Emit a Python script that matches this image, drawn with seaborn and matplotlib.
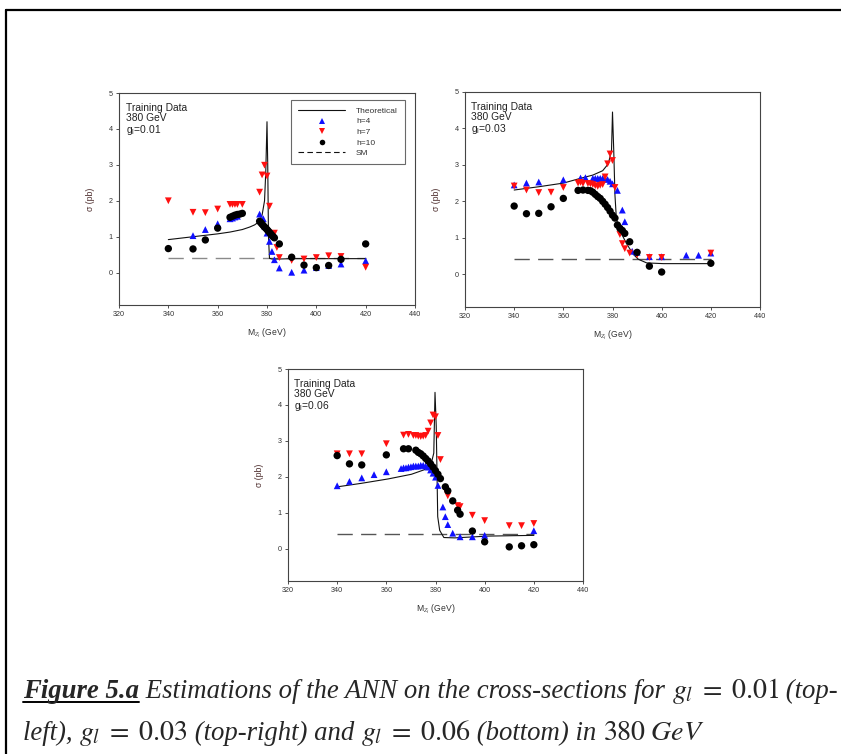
import numpy as np
import pandas as pd
import matplotlib
matplotlib.use("Agg")
import matplotlib.pyplot as plt
import seaborn as sns
from matplotlib.lines import Line2D

# ---------------- data ----------------
# g_l = 0.01
theo_x_01 = [340, 345, 350, 355, 360, 365, 370, 373, 375, 376, 377, 378, 379, 379.5, 380, 380.3, 380.6, 381, 382, 385, 390, 400, 410, 420]
theo_y_01 = [0.92, 0.96, 1.0, 1.04, 1.08, 1.13, 1.2, 1.27, 1.33, 1.38, 1.45, 1.6, 2.0, 2.8, 4.2, 3.0, 1.0, 0.4, 0.38, 0.38, 0.39, 0.39, 0.39, 0.39]
h4_x_01 = [350, 355, 360, 365, 366, 367, 368, 377, 378.5, 379, 380, 381, 382, 383, 385, 390, 395, 400, 405, 410, 420]
h4_y_01 = [1.03, 1.2, 1.36, 1.5, 1.52, 1.55, 1.57, 1.63, 1.5, 1.3, 1.1, 0.87, 0.59, 0.36, 0.13, 0.01, 0.07, 0.14, 0.2, 0.24, 0.33]
h7_x_01 = [340, 350, 355, 360, 365, 366, 367, 368, 370, 377, 378, 379, 380, 381, 383, 384, 385, 390, 395, 400, 405, 410, 420]
h7_y_01 = [2.0, 1.68, 1.67, 1.77, 1.9, 1.9, 1.9, 1.9, 1.9, 2.24, 2.72, 2.99, 2.69, 1.85, 1.1, 0.7, 0.42, 0.34, 0.38, 0.42, 0.47, 0.45, 0.15]
h10_x_01 = [340, 350, 355, 360, 365, 366, 367, 368, 369, 370, 377, 377.5, 378, 378.5, 379, 379.5, 380, 380.5, 381, 381.5, 382, 382.5, 383, 385, 390, 395, 400, 405, 410, 420]
h10_y_01 = [0.67, 0.66, 0.91, 1.24, 1.54, 1.57, 1.6, 1.62, 1.63, 1.65, 1.43, 1.39, 1.35, 1.31, 1.27, 1.24, 1.2, 1.16, 1.12, 1.08, 1.04, 1.0, 0.97, 0.8, 0.43, 0.21, 0.14, 0.2, 0.37, 0.8]
sm_x_01 = [340, 420]
sm_y_01 = [0.4, 0.4]

# g_l = 0.03
theo_x_03 = [340, 350, 360, 368, 372, 376, 378.3, 379.6, 380, 380.5, 381, 381.6, 383.6, 385.7, 388.4, 390.5, 393.9, 400.7, 410, 420]
theo_y_03 = [2.31, 2.4, 2.5, 2.65, 2.72, 2.84, 3.03, 3.4, 4.45, 3.4, 2.17, 1.5, 1.12, 0.84, 0.55, 0.41, 0.31, 0.29, 0.29, 0.29]
h4_x_03 = [340, 345, 350, 360, 367, 369, 372, 373, 374, 375, 376, 377, 378, 379, 380, 382, 384, 385, 388, 390, 395, 400, 410, 415, 420]
h4_y_03 = [2.45, 2.5, 2.53, 2.59, 2.64, 2.65, 2.63, 2.63, 2.63, 2.63, 2.63, 2.62, 2.6, 2.55, 2.48, 2.3, 1.76, 1.44, 0.63, 0.6, 0.48, 0.48, 0.52, 0.52, 0.58]
h7_x_03 = [340, 345, 350, 355, 360, 366, 367, 368, 370, 371, 372, 373, 374, 375, 376, 377, 378, 379, 380, 381, 383, 384, 385, 387, 390, 395, 400, 420]
h7_y_03 = [2.42, 2.31, 2.24, 2.25, 2.38, 2.5, 2.52, 2.49, 2.49, 2.48, 2.46, 2.43, 2.41, 2.44, 2.46, 2.67, 3.03, 3.3, 3.12, 2.38, 1.09, 0.84, 0.7, 0.58, 0.53, 0.46, 0.46, 0.58]
h10_x_03 = [340, 345, 350, 355, 360, 366, 368, 370, 371, 372, 373, 374, 375, 376, 377, 378, 379, 380, 381, 382, 383, 384, 385, 387, 390, 395, 400, 420]
h10_y_03 = [1.87, 1.66, 1.67, 1.85, 2.08, 2.3, 2.31, 2.3, 2.29, 2.25, 2.19, 2.13, 2.08, 2.0, 1.92, 1.83, 1.73, 1.62, 1.54, 1.35, 1.26, 1.2, 1.12, 0.89, 0.6, 0.22, 0.06, 0.3]
sm_x_03 = [340, 420]
sm_y_03 = [0.41, 0.41]

# g_l = 0.06
theo_x_06 = [340, 350, 360.7, 370.2, 375.6, 378.3, 379.3, 379.8, 380.3, 380.9, 381.7, 383.4, 387.8, 401.4, 420]
theo_y_06 = [1.72, 1.82, 1.94, 2.07, 2.2, 2.38, 2.66, 4.35, 3.41, 0.89, 0.51, 0.31, 0.3, 0.35, 0.37]
h4_x_06 = [340, 345, 350, 355, 360, 366, 367, 368, 369, 370, 371, 372, 373, 374, 375, 376, 377, 378, 379, 380, 381, 383, 384, 385, 387, 390, 395, 400, 420]
h4_y_06 = [1.75, 1.87, 1.97, 2.06, 2.14, 2.23, 2.25, 2.25, 2.27, 2.28, 2.3, 2.3, 2.3, 2.32, 2.32, 2.3, 2.27, 2.19, 2.1, 1.99, 1.76, 1.16, 0.89, 0.67, 0.43, 0.33, 0.33, 0.37, 0.5]
h7_x_06 = [340, 345, 350, 360, 367, 369, 371, 372, 373, 374, 375, 376, 377, 378, 379, 380, 381, 382, 384, 385, 389, 390, 395, 400, 410, 415, 420]
h7_y_06 = [2.64, 2.64, 2.64, 2.92, 3.16, 3.18, 3.15, 3.15, 3.13, 3.12, 3.13, 3.15, 3.27, 3.5, 3.72, 3.67, 3.15, 2.48, 1.64, 1.47, 1.2, 1.17, 0.93, 0.78, 0.64, 0.64, 0.7]
h10_x_06 = [340, 345, 350, 360, 367, 369, 372, 373, 374, 375, 376, 377, 378, 379, 380, 381, 382, 384, 385, 387, 389, 390, 395, 400, 410, 415, 420]
h10_y_06 = [2.59, 2.36, 2.33, 2.61, 2.78, 2.78, 2.74, 2.68, 2.64, 2.58, 2.51, 2.44, 2.36, 2.27, 2.17, 2.07, 1.95, 1.72, 1.61, 1.33, 1.07, 0.96, 0.49, 0.19, 0.05, 0.08, 0.11]
sm_x_06 = [340, 420]
sm_y_06 = [0.41, 0.41]

panel_labels = ["0.01", "0.03", "0.06"]
legend_labels = ["Theoretical", "h=4", "h=7", "h=10", "SM"]
x_ticks = [320, 340, 360, 380, 400, 420, 440]
y_ticks = [0, 1, 2, 3, 4, 5]

# ---------------- figure ----------------
sns.set_style("ticks")
plt.rcParams["font.family"] = ["Liberation Sans", "DejaVu Sans"]
plt.rcParams["mathtext.fontset"] = "stix"

W, H = 841, 754
fig = plt.figure(figsize=(W / 100, H / 100), dpi=100)

def px_axes(x0, y0, x1, y1):
    return fig.add_axes([x0 / W, 1 - y1 / H, (x1 - x0) / W, (y1 - y0) / H])

panels = [
    (px_axes(119, 93, 415, 305), theo_x_01, theo_y_01, h4_x_01, h4_y_01, h7_x_01, h7_y_01, h10_x_01, h10_y_01, sm_x_01, sm_y_01, "#8a8a8a"),
    (px_axes(465, 92, 760, 307), theo_x_03, theo_y_03, h4_x_03, h4_y_03, h7_x_03, h7_y_03, h10_x_03, h10_y_03, sm_x_03, sm_y_03, "#555555"),
    (px_axes(288, 369, 583, 581), theo_x_06, theo_y_06, h4_x_06, h4_y_06, h7_x_06, h7_y_06, h10_x_06, h10_y_06, sm_x_06, sm_y_06, "#555555"),
]

blue = "#1010ff"
red = "#ff1010"
spine_c = "#444444"

for i, (ax, tx, ty, x4, y4, x7, y7, x10, y10, smx, smy, smc) in enumerate(panels):
    sns.lineplot(x=tx, y=ty, ax=ax, color="#111111", lw=0.8, estimator=None, sort=False, zorder=2)
    sns.lineplot(x=smx, y=smy, ax=ax, color=smc, lw=1.0, estimator=None, sort=False, zorder=1,
                 dashes=False, linestyle=(0, (11, 6)))
    sns.scatterplot(x=x4, y=y4, ax=ax, marker="^", color=blue, s=24, edgecolor="none", zorder=3)
    sns.scatterplot(x=x7, y=y7, ax=ax, marker="v", color=red, s=24, edgecolor="none", zorder=4)
    sns.scatterplot(x=x10, y=y10, ax=ax, marker="o", color="black", s=28, edgecolor="none", zorder=5)
    ax.set_xlim(320, 440)
    ax.set_ylim(-0.9, 5)
    ax.set_xticks(x_ticks)
    ax.set_yticks(y_ticks)
    ax.tick_params(axis="both", direction="out", length=2.5, width=0.6, labelsize=5.2,
                   colors="#333333", pad=2)
    ax.tick_params(top=False, right=False)
    for s in ax.spines.values():
        s.set_visible(True)
        s.set_color(spine_c)
        s.set_linewidth(0.8)
    ax.set_xlabel(r"M$_{Z_l}$ (GeV)", fontsize=6.2, color="#333333", labelpad=6)
    ax.set_ylabel("σ (pb)", fontsize=6.2, color="#4a2a2a", labelpad=10)
    ax.text(0.022, 0.955, "Training Data\n380 GeV\n" + r"g$_\mathregular{l}$=" + panel_labels[i],
            transform=ax.transAxes, ha="left", va="top", fontsize=7.4, color="#222222",
            linespacing=1.0)
    if ax.get_legend() is not None:
        ax.get_legend().remove()

# legend in first panel
ax0 = panels[0][0]
handles = [
    Line2D([], [], color="#111111", lw=0.8),
    Line2D([], [], color=blue, marker="^", ls="none", markersize=4, markeredgewidth=0),
    Line2D([], [], color=red, marker="v", ls="none", markersize=4, markeredgewidth=0),
    Line2D([], [], color="black", marker="o", ls="none", markersize=4, markeredgewidth=0),
    Line2D([], [], color="#111111", lw=0.8, ls=(0, (5, 3))),
]
leg = ax0.legend(handles, legend_labels, loc="upper right", bbox_to_anchor=(0.966, 0.967),
                 fontsize=6.0, frameon=True, fancybox=False, handlelength=5.6,
                 handletextpad=1.3, labelspacing=0.33, borderpad=0.85, borderaxespad=0)
leg.get_frame().set_edgecolor("#444444")
leg.get_frame().set_linewidth(0.8)
for t in leg.get_texts():
    t.set_color("#333333")

# outer frame (left and top border)
fig.add_artist(Line2D([6 / W, 6 / W], [0, 1 - 10 / H], transform=fig.transFigure, color="black", lw=1.6))
fig.add_artist(Line2D([6 / W, 1], [1 - 10 / H, 1 - 10 / H], transform=fig.transFigure, color="black", lw=1.6))

# caption
renderer = fig.canvas.get_renderer()
serif = ["Liberation Serif", "DejaVu Serif"]

line1 = [("Figure 5.a", "bold"), (" Estimations of the ANN on the cross-sections for ", "it"),
         (r"$g_l\;=\;0.01$", "math"), (" (top-", "it")]
line2 = [("left), ", "it"), (r"$g_l\;=\;0.03$", "math"), (" (top-right) and ", "it"),
         (r"$g_l\;=\;0.06$", "math"), (" (bottom) in ", "it"), (r"$380\;GeV$", "math")]

def draw_line(parts, x, y, fs):
    arts = []
    under = None
    for s, kind in parts:
        if kind == "bold":
            kw = dict(family=serif, style="italic", weight="bold", fontsize=fs)
        elif kind == "it":
            kw = dict(family=serif, style="italic", fontsize=fs)
        else:
            kw = dict(fontsize=fs * 1.05)
        t = fig.text(x / W, 1 - y / H, s, ha="left", va="baseline", **kw)
        bb = t.get_window_extent(renderer)
        if kind == "bold":
            under = (x, bb.x1)
        x = bb.x1
        arts.append(t)
    return arts, x, under

fs0 = 19
arts, xend, _ = draw_line(line1, 23, 698, fs0)
for a in arts:
    a.remove()
fs = fs0 * (838 - 23) / (xend - 23)

_, _, under = draw_line(line1, 23, 698, fs)
fig.add_artist(Line2D([under[0] / W, under[1] / W], [1 - 701.5 / H, 1 - 701.5 / H],
                      transform=fig.transFigure, color="black", lw=1.4))
draw_line(line2, 23, 740, fs)

fig.savefig("out.png", dpi=100)
